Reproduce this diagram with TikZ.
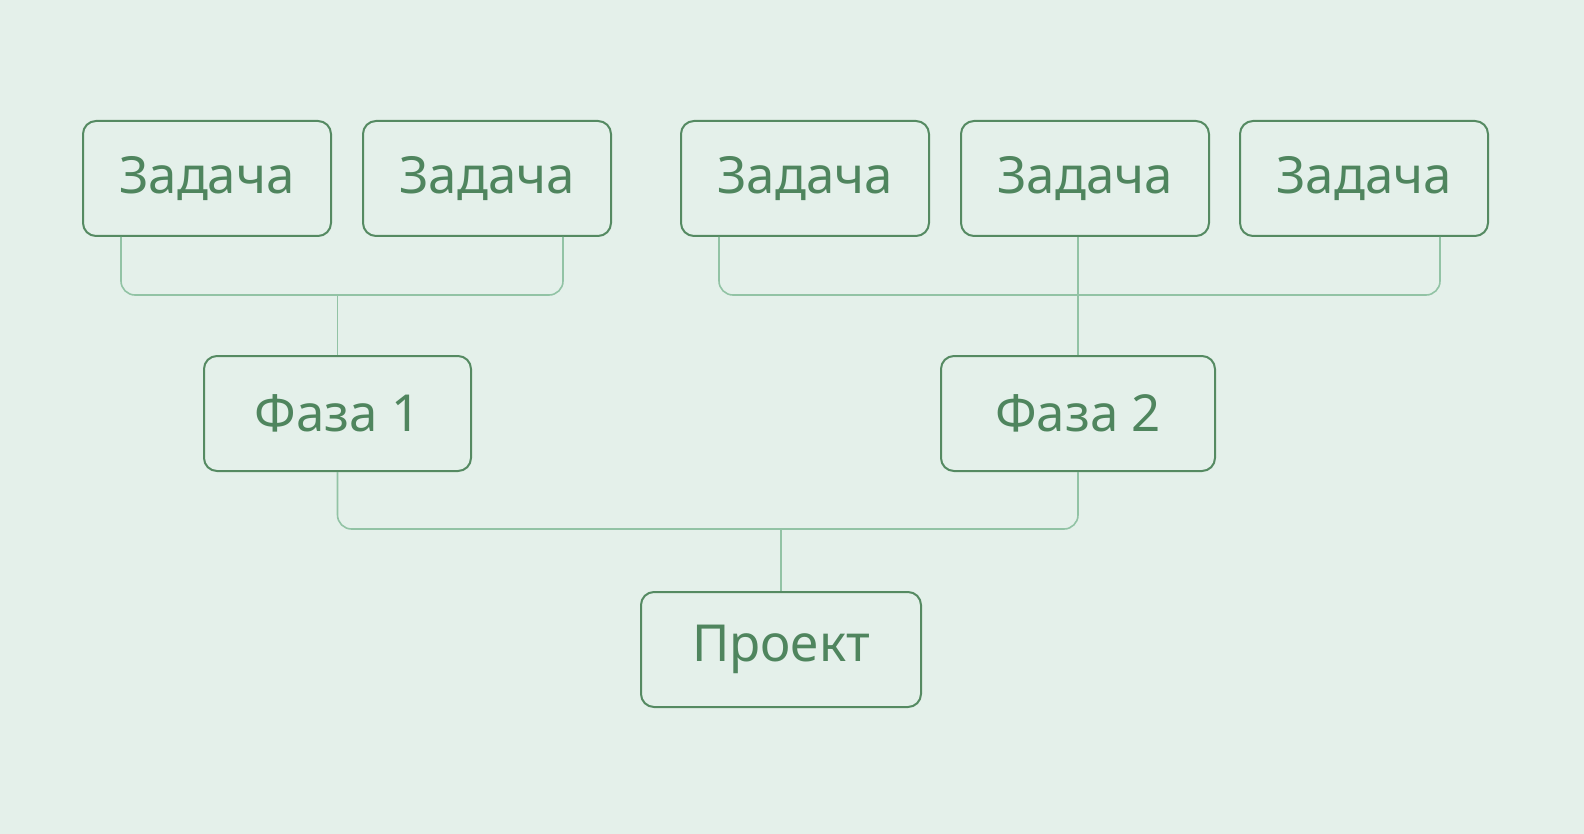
\documentclass[tikz,border=0pt]{standalone}
\usepackage{fontspec}
\setmainfont{Noto Sans}
\usetikzlibrary{calc}
\definecolor{bg}{HTML}{E4F0EA}
\definecolor{boxline}{HTML}{558A62}
\definecolor{txt}{HTML}{4F855E}
\definecolor{conn}{HTML}{92C3A5}
\tikzset{
  box/.style={draw=boxline, line width=1pt, rounded corners=6.5pt, text=txt,
    font=\fontsize{25.5}{30}\selectfont, minimum height=57.5pt, inner sep=0pt, anchor=north west},
  task/.style={box, minimum width=124pt},
  connline/.style={draw=conn, line width=0.8pt, rounded corners=7pt}
}
\begin{document}
\begin{tikzpicture}[x=0.5pt,y=-0.5pt]
\fill[bg] (0,0) rectangle (1584,834);
\useasboundingbox (0,0) rectangle (1584,834);
\node[task] (t1) at (82,120) {Задача};
\node[task] (t2) at (362,120) {Задача};
\node[task] (t3) at (680,120) {Задача};
\node[task] (t4) at (960,120) {Задача};
\node[task] (t5) at (1239,120) {Задача};
\node[box, minimum width=133.5pt] (p1) at (203,355) {Фаза 1};
\node[box, minimum width=137pt] (p2) at (940,355) {Фаза 2};
\node[box, minimum width=140pt] (pr) at (640,591) {Проект};
\coordinate (h1) at (0,295);
\coordinate (h2) at (0,529);
% left group
\coordinate (a1) at ([xshift=19.5pt]t1.south west);
\coordinate (a2) at ([xshift=-24.5pt]t2.south east);
\draw[connline] (a1) -- (a1 |- h1) -- (a2 |- h1) -- (a2);
\draw[connline] (p1.north) -- (p1.north |- h1);
% right group
\coordinate (b3) at ([xshift=19.5pt]t3.south west);
\coordinate (b5) at ([xshift=-24.5pt]t5.south east);
\draw[connline] (b3) -- (b3 |- h1) -- (b5 |- h1) -- (b5);
\draw[connline] (p2.north |- t4.south) -- (p2.north);
% bottom
\draw[connline] (p1.south) -- (p1.south |- h2) -- (p2.south |- h2) -- (p2.south);
\draw[connline] (pr.north) -- (pr.north |- h2);
\end{tikzpicture}
\end{document}
